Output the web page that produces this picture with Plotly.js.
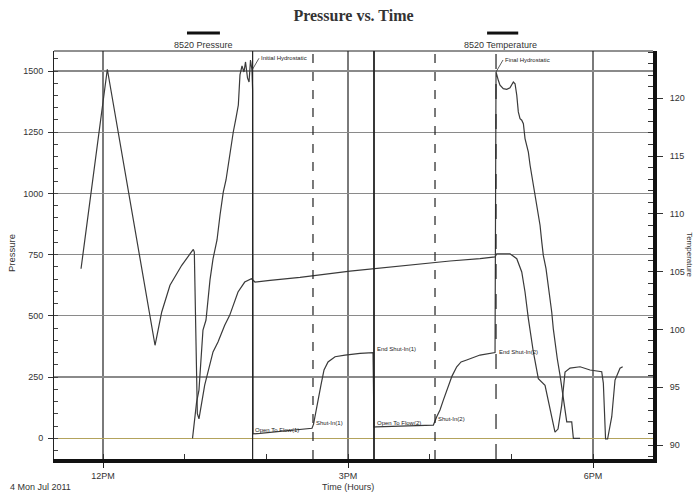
<!DOCTYPE html>
<html>
<head>
<meta charset="utf-8">
<script src="https://cdn.plot.ly/plotly-3.0.1.min.js"></script>
<style>html,body{margin:0;padding:0;background:#fff;}#chart{width:694px;height:493px;}</style>
</head>
<body>
<div id="chart"></div>
<script>
// Pressure series (hours since midnight, psi)
const timeP = [13.096,13.146,13.175,13.224,13.261,13.310,13.347,13.396,13.433,13.473,13.506,13.531,13.555,13.595,13.628,13.657,13.677,13.702,13.726,13.745,13.769,13.788,13.806,13.824,13.832,13.837,13.922,14.167,14.412,14.559,14.578,14.608,14.636,14.669,14.706,14.755,14.841,14.963,15.147,15.306,15.318,15.343,15.637,16.045,16.086,16.126,16.167,16.228,16.273,16.331,16.384,16.453,16.616,16.800,16.812,16.840,16.861,16.901,16.943,16.983,17.004,17.024,17.045,17.066,17.085,17.106,17.127,17.147,17.167,17.188,17.208,17.229,17.261,17.290,17.318,17.351,17.372,17.391,17.424,17.452,17.473,17.494,17.513,17.534,17.562,17.596,17.629,17.657,17.678,17.739,17.759,17.841];
const presP = [0,148,197,442,483,647,733,810,912,1006,1055,1116,1169,1251,1308,1361,1484,1521,1496,1537,1472,1455,1545,1503,1422,18,20,28,34,41,58,116,156,218,279,312,333,340,347,350,46,47,50,54,88,116,156,211,254,292,312,320,340,350,1496,1462,1442,1428,1425,1431,1442,1455,1448,1401,1333,1305,1299,1285,1224,1197,1169,1115,1047,992,938,870,802,747,693,625,570,516,448,393,325,257,176,107,67,67,0,0];

// Temperature series (hours, deg)
const timeT = [11.731,12.053,12.637,12.719,12.820,12.964,13.065,13.106,13.118,13.155,13.175,13.245,13.347,13.408,13.490,13.551,13.653,13.735,13.817,13.861,14.045,14.412,15.024,15.637,16.249,16.616,16.800,16.821,16.922,16.983,17.066,17.127,17.167,17.208,17.269,17.330,17.412,17.473,17.534,17.571,17.616,17.657,17.718,17.841,17.963,18.106,18.126,18.153,18.178,18.229,18.269,18.330,18.363];
const tempT = [105.25,122.51,98.63,101.51,103.82,105.55,106.53,106.93,106.70,92.71,92.27,95.19,98.05,98.91,100.36,101.22,103.24,104.10,104.39,104.10,104.25,104.51,105.05,105.49,105.92,106.12,106.27,106.55,106.59,106.55,106.12,104.97,103.24,100.93,98.05,95.74,95.16,93.14,91.12,91.38,93.43,96.31,96.66,96.77,96.49,96.34,95.36,90.52,90.52,92.45,95.62,96.64,96.77];

// Event markers
const eventTimes = [13.832, 14.571, 15.318, 16.065, 16.812];
const eventDash = ['solid','dash','solid','dash','longdash'];
const eventWidth = [1.2, 1.2, 1.8, 1.2, 1.2];

// Event labels
const labelText = ['Open To Flow(1)','Shut-In(1)','End Shut-In(1)','Open To Flow(2)','Shut-In(2)','End Shut-In(2)'];
const labelTime = [13.840, 14.578, 15.330, 15.336, 16.071, 16.826];
const labelPres = [34, 62, 363, 64, 78, 354];

const hydroText = ['Initial Hydrostatic','Final Hydrostatic'];
const hydroTime = [13.824, 16.812];
const hydroPres = [1503, 1496];

// Axis ticks
const xTickVals = [12, 15, 18];
const xTickText = ['12PM','3PM','6PM'];
const hourTicks = [12,13,14,15,16,17,18];

const seriesNames = ['8520 Pressure','8520 Temperature'];

const tickFont = {family:'Liberation Sans, Arial, sans-serif', size:9, color:'#333'};
const lineCol = '#3a3a3a';

const traces = [
  {x:timeP, y:presP, type:'scatter', mode:'lines', name:seriesNames[0], yaxis:'y',
   line:{color:lineCol, width:1.2}, showlegend:false, hoverinfo:'skip'},
  {x:timeT, y:tempT, type:'scatter', mode:'lines', name:seriesNames[1], yaxis:'y2',
   line:{color:lineCol, width:1.2}, showlegend:false, hoverinfo:'skip'}
];

const shapes = [];
eventTimes.forEach((t,i)=>{
  shapes.push({type:'line', xref:'x', yref:'paper', x0:t, x1:t, y0:0, y1:1,
    line:{color:'#222', width:eventWidth[i], dash:eventDash[i]}});
});
// top border
shapes.push({type:'line', xref:'paper', yref:'paper', x0:0, x1:1, y0:1, y1:1, line:{color:'#222', width:1}});
// legend swatches
shapes.push({type:'line', xref:'paper', yref:'paper', x0:0.222, x1:0.277, y0:1.044, y1:1.044, line:{color:'#111', width:3}});
shapes.push({type:'line', xref:'paper', yref:'paper', x0:0.723, x1:0.775, y0:1.044, y1:1.044, line:{color:'#111', width:3}});

const smallFont = {family:'Liberation Sans, Arial, sans-serif', size:6, color:'#222'};
const annotations = [];
labelText.forEach((s,i)=>{
  annotations.push({text:s, x:labelTime[i], y:labelPres[i], xref:'x', yref:'y',
    xanchor:'left', yanchor:'middle', showarrow:false, font:smallFont});
});
hydroText.forEach((s,i)=>{
  annotations.push({text:s, x:hydroTime[i], y:hydroPres[i], xref:'x', yref:'y',
    ax:7, ay:-12, xanchor:'left', yanchor:'middle', showarrow:true,
    arrowhead:0, arrowwidth:0.8, arrowcolor:'#333', standoff:0, font:smallFont});
});
const txtFont = {family:'Liberation Sans, Arial, sans-serif', size:9, color:'#333'};
annotations.push({text:seriesNames[0], xref:'paper', yref:'paper', x:0.249, y:1.0147, xanchor:'center', yanchor:'middle', showarrow:false, font:txtFont});
annotations.push({text:seriesNames[1], xref:'paper', yref:'paper', x:0.746, y:1.0147, xanchor:'center', yanchor:'middle', showarrow:false, font:txtFont});
annotations.push({text:'Time (Hours)', xref:'paper', yref:'paper', x:0.491, y:-0.0686, xanchor:'center', yanchor:'middle', showarrow:false, font:txtFont});
annotations.push({text:'4 Mon Jul 2011', xref:'paper', yref:'paper', x:-0.0768, y:-0.0686, xanchor:'left', yanchor:'middle', showarrow:false, font:txtFont});
annotations.push({text:'Pressure', xref:'paper', yref:'paper', x:-0.0701, y:0.505, xanchor:'center', yanchor:'middle', textangle:-90, showarrow:false, font:{family:'Liberation Sans, Arial, sans-serif', size:9.5, color:'#333'}});
annotations.push({text:'Temperature', xref:'paper', yref:'paper', x:1.0615, y:0.50, xanchor:'center', yanchor:'middle', textangle:90, showarrow:false, font:{family:'Liberation Sans, Arial, sans-serif', size:8, color:'#333'}});

const layout = {
  width:694, height:493,
  margin:{l:54, r:41, t:51, b:34, pad:0},
  paper_bgcolor:'#fff', plot_bgcolor:'#fff',
  showlegend:false,
  title:{text:'<b>Pressure vs. Time</b>', x:0.5, xref:'paper', y:1-15/493, yref:'container', yanchor:'middle',
    font:{family:'Liberation Serif, Times New Roman, serif', size:16, color:'#333'}},
  xaxis:{range:[11.400, 18.734], tickmode:'array', tickvals:xTickVals, ticktext:xTickText,
    ticks:'outside', ticklen:5, tickcolor:'#222', tickfont:tickFont,
    showgrid:true, gridcolor:'#7a7a7a', gridwidth:1.3, zeroline:false,
    showline:true, linecolor:'#111', linewidth:4,
    minor:{tickmode:'array', tickvals:hourTicks, ticks:'inside', ticklen:5, tickcolor:'#333', showgrid:false},
    fixedrange:true},
  yaxis:{range:[-84.5, 1581.7], tickmode:'linear', tick0:0, dtick:250,
    ticks:'outside', ticklen:5, tickcolor:'#333', tickfont:tickFont, ticklabelstandoff:3,
    showgrid:true, gridcolor:'#8a8a8a', gridwidth:1.2,
    zeroline:true, zerolinecolor:'#b3a35c', zerolinewidth:1.2,
    showline:true, linecolor:'#222', linewidth:1,
    minor:{tickmode:'linear', dtick:50, ticks:'inside', ticklen:4, tickcolor:'#444', showgrid:false},
    fixedrange:true},
  yaxis2:{range:[88.79, 124.09], overlaying:'y', side:'right', tickmode:'linear', tick0:0, dtick:5,
    ticks:'outside', ticklen:6, tickcolor:'#333', tickfont:tickFont, ticklabelstandoff:5,
    showgrid:false, zeroline:false, showline:true, linecolor:'#111', linewidth:4,
    minor:{tickmode:'linear', dtick:1, ticks:'inside', ticklen:5, tickcolor:'#333', showgrid:false},
    fixedrange:true},
  shapes:shapes,
  annotations:annotations
};

Plotly.newPlot('chart', traces, layout, {staticPlot:true, displayModeBar:false});
</script>
</body>
</html>
